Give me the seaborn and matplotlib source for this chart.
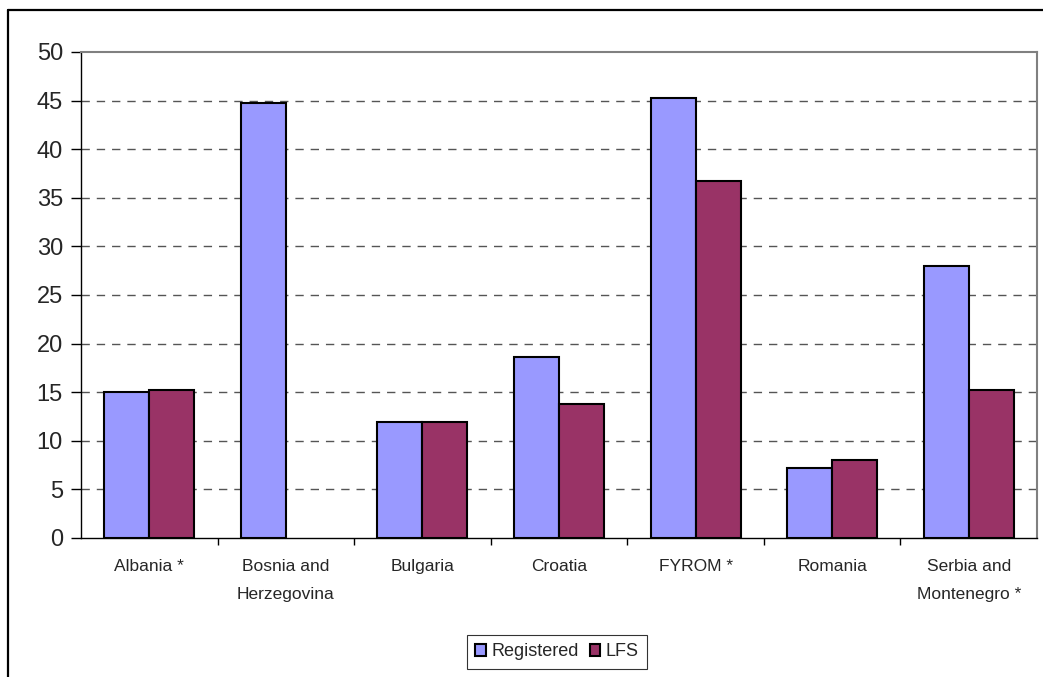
import pandas as pd
import numpy as np
import matplotlib
matplotlib.use("Agg")
import matplotlib.pyplot as plt
from matplotlib.lines import Line2D
from matplotlib.patches import Patch
import seaborn as sns

countries = ["Albania *", "Bosnia and\nHerzegovina", "Bulgaria", "Croatia",
             "FYROM *", "Romania", "Serbia and\nMontenegro *"]
registered = [15.0, 44.8, 11.9, 18.6, 45.3, 7.2, 28.0]
lfs = [15.2, np.nan, 11.9, 13.8, 36.7, 8.0, 15.2]
series = ["Registered", "LFS"]
colors = ["#9999FF", "#993366"]

df = pd.DataFrame({"country": countries * 2,
                   "series": ["Registered"] * 7 + ["LFS"] * 7,
                   "value": registered + lfs})

sns.set_style("white")
plt.rcParams['font.family'] = ['Liberation Sans', 'DejaVu Sans']

fig = plt.figure(figsize=(10.43, 6.77), dpi=100)
ax = fig.add_axes([81/1043, 1 - 538/677, (1037 - 81)/1043, (538 - 52)/677])

sns.barplot(data=df, x="country", y="value", hue="series", hue_order=series,
            palette=colors, order=countries, width=0.66, gap=0,
            edgecolor="black", linewidth=1.5, saturation=1, ax=ax, legend=False)

ax.set_ylim(0, 50)
ax.set_xlim(-0.5, 6.5)
ax.set_yticks(range(0, 51, 5))
ax.set_xlabel("")
ax.set_ylabel("")

for y in range(5, 50, 5):
    ax.axhline(y, color="#555555", lw=1, ls=(0, (6, 5)), zorder=0)

for side in ["top", "right"]:
    ax.spines[side].set_color("#808080")
    ax.spines[side].set_linewidth(1.5)
for side in ["left", "bottom"]:
    ax.spines[side].set_color("black")
    ax.spines[side].set_linewidth(1.0)

ax.tick_params(axis="y", length=7, width=1, color="black", labelsize=17, pad=6, left=True)
ax.set_xticks(range(len(countries)))
ax.set_xticklabels(countries, linespacing=2.1, va="top")
ax.tick_params(axis="x", which="major", length=0, labelsize=12.5, pad=15)
ax.set_xticks(np.arange(0.5, 6.5, 1), minor=True)
ax.tick_params(axis="x", which="minor", length=5, width=1, color="black", bottom=True)

# outer frame (cut at right and bottom)
fig.add_artist(Line2D([8/1043, 8/1043], [0, 1 - 10/677], color="black", lw=1.6,
                      transform=fig.transFigure))
fig.add_artist(Line2D([8/1043, 1], [1 - 10/677, 1 - 10/677], color="black", lw=1.6,
                      transform=fig.transFigure))

handles = [Patch(facecolor=c, edgecolor="black", linewidth=1.5, label=s)
           for c, s in zip(colors, series)]
leg = fig.legend(handles=handles, loc="center", bbox_to_anchor=(557/1043, 1 - 652/677),
                 ncol=2, frameon=True, fancybox=False, fontsize=13,
                 handlelength=0.6, handleheight=0.6, handletextpad=0.3,
                 columnspacing=0.6, borderpad=0.45, borderaxespad=0)
leg.get_frame().set_edgecolor("black")
leg.get_frame().set_linewidth(0.8)

fig.savefig("out.png", dpi=100)
